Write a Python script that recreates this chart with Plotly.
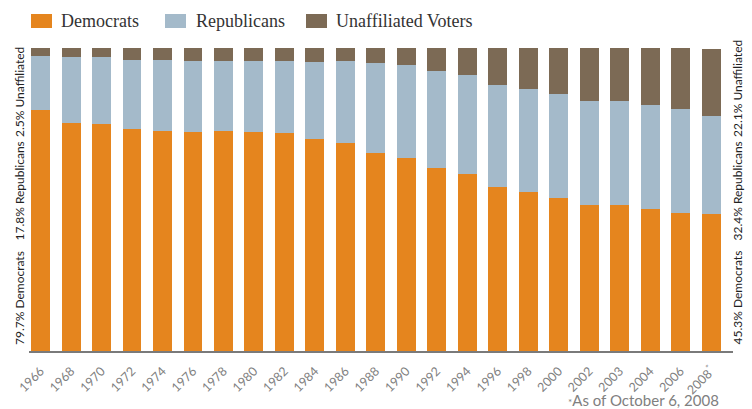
import plotly.graph_objects as go

years = ["1966", "1968", "1970", "1972", "1974", "1976", "1978", "1980", "1982", "1984",
         "1986", "1988", "1990", "1992", "1994", "1996", "1998", "2000", "2002", "2003",
         "2004", "2006", "2008"]
tick_labels = years[:-1] + ["2008<sup>*</sup>"]
democrats = [79.7, 75.4, 75.0, 73.3, 72.7, 72.3, 72.7, 72.3, 72.0, 70.0, 68.7, 65.4,
             63.7, 60.4, 58.4, 54.0, 52.5, 50.5, 48.2, 48.2, 46.9, 45.6, 45.3]
republicans = [17.8, 21.7, 22.1, 22.8, 23.5, 23.5, 23.1, 23.5, 23.8, 25.5, 27.1, 29.8,
               30.7, 32.1, 32.7, 33.9, 34.0, 34.4, 34.4, 34.4, 34.4, 34.4, 32.4]
unaffiliated = [2.5, 2.9, 2.9, 3.9, 3.9, 4.2, 4.2, 4.2, 4.2, 4.5, 4.2, 4.9, 5.5, 7.5,
                8.8, 12.1, 13.5, 15.1, 17.4, 17.4, 18.7, 20.1, 22.1]
series_names = ["Democrats", "Republicans", "Unaffiliated Voters"]
colors = ["#E5851E", "#A4BACA", "#7C6A55"]
left_notes = ["79.7% Democrats", "17.8% Republicans", "2.5% Unaffiliated"]
right_notes = ["45.3% Democrats", "32.4% Republicans", "22.1% Unaffiliated"]
footnote = '<span style="font-size:10px">*</span>As of October 6, 2008'

W, H = 752, 409
L, R, T, B = 29, 733, 48, 351  # plot area in pixels


def px(x):
    return (x - L) / (R - L)


def py(y):
    return (B - y) / (B - T)


fig = go.Figure()
for name, vals, col in zip(series_names, [democrats, republicans, unaffiliated], colors):
    fig.add_trace(go.Bar(x=years, y=vals, name=name, marker=dict(color=col, line=dict(width=0)),
                         showlegend=False))

shapes = []
annotations = []
# custom legend
leg_sq = [31, 165, 306]
leg_tx = [59, 194, 334]
for sx, tx, name, col in zip(leg_sq, leg_tx, series_names, colors):
    shapes.append(dict(type="rect", xref="paper", yref="paper", x0=px(sx), x1=px(sx + 21),
                       y0=py(28), y1=py(14), fillcolor=col, line=dict(width=0)))
    annotations.append(dict(xref="paper", yref="paper", x=px(tx), y=py(21), text=name,
                            showarrow=False, xanchor="left", yanchor="middle",
                            font=dict(family="Liberation Serif", size=18, color="#333333")))

left_y = [298, 191.5, 92]
right_y = [297.5, 191.5, 89]
for t, yy in zip(left_notes, left_y):
    annotations.append(dict(xref="paper", yref="paper", x=px(19), y=py(yy), text=t,
                            textangle=-90, showarrow=False, xanchor="center", yanchor="middle",
                            font=dict(family="Lato", size=12, color="#222222")))
for t, yy in zip(right_notes, right_y):
    annotations.append(dict(xref="paper", yref="paper", x=px(737), y=py(yy), text=t,
                            textangle=-90, showarrow=False, xanchor="center", yanchor="middle",
                            font=dict(family="Lato", size=12, color="#222222")))
annotations.append(dict(xref="paper", yref="paper", x=px(721), y=py(400), text=footnote,
                        showarrow=False, xanchor="right", yanchor="middle",
                        font=dict(family="Lato", size=15, color="#808080")))

fig.update_layout(
    width=W, height=H,
    margin=dict(l=L, r=W - R, t=T, b=H - B, pad=0, autoexpand=False),
    barmode="stack", bargap=0.38,
    plot_bgcolor="white", paper_bgcolor="white",
    shapes=shapes, annotations=annotations,
    xaxis=dict(type="category", range=[-0.38, 22.72], tickvals=years, ticktext=tick_labels,
               tickangle=-45, tickfont=dict(family="Lato", size=12.5, color="#808080"),
               showline=True, linecolor="#7a7a7a", linewidth=2, showgrid=False,
               ticks="outside", ticklen=6, tickcolor="rgba(0,0,0,0)", zeroline=False,
               automargin=False),
    yaxis=dict(range=[0, 100], visible=False, showgrid=False, zeroline=False, automargin=False),
)

fig.write_html("out.html")
